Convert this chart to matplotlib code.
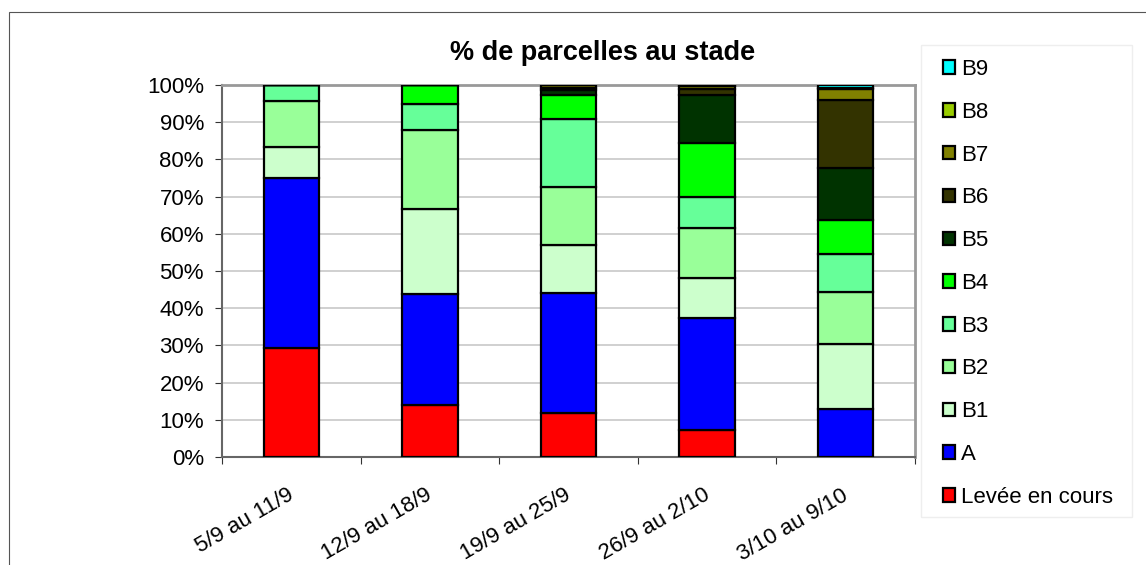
import matplotlib.pyplot as plt
import matplotlib.transforms as mtransforms
import numpy as np
from matplotlib.patches import Rectangle

plt.rcParams['font.family'] = ['Liberation Sans', 'DejaVu Sans']

# weeks
periods = ["5/9 au 11/9", "12/9 au 18/9", "19/9 au 25/9", "26/9 au 2/10", "3/10 au 9/10"]

# % of plots per stage (bottom to top)
stages = ["Levée en cours", "A", "B1", "B2", "B3", "B4", "B5", "B6", "B7", "B8", "B9"]
levee = [29.2, 14.0, 11.7, 7.3, 0.0]
stade_a = [45.8, 29.8, 32.4, 30.0, 13.0]
b1 = [8.3, 23.0, 13.0, 10.8, 17.4]
b2 = [12.5, 21.1, 15.5, 13.5, 13.9]
b3 = [4.2, 7.0, 18.3, 8.3, 10.3]
b4 = [0.0, 5.1, 6.4, 14.6, 9.0]
b5 = [0.0, 0.0, 1.3, 12.8, 14.2]
b6 = [0.0, 0.0, 0.7, 1.6, 18.2]
b7 = [0.0, 0.0, 0.7, 0.8, 2.9]
b8 = [0.0, 0.0, 0.0, 0.3, 0.2]
b9 = [0.0, 0.0, 0.0, 0.0, 0.9]

colors = ["#ff0000", "#0000ff", "#ccffcc", "#99ff99", "#66ff99", "#00ff00",
          "#003300", "#333300", "#808000", "#99cc00", "#00ffff"]

series = [levee, stade_a, b1, b2, b3, b4, b5, b6, b7, b8, b9]

W, H = 1146, 565
fig = plt.figure(figsize=(W / 100, H / 100), dpi=100)
ax = fig.add_axes([222 / W, 1 - 457 / H, 693 / W, 372 / H])

# outer chart border
fig.patches.append(Rectangle((9 / W, -0.1), 1.2, 0.1 + 1 - 12 / H,
                             transform=fig.transFigure, fill=False,
                             edgecolor="#555555", linewidth=0.8))
# legend frame
fig.patches.append(Rectangle((921 / W, 1 - 517 / H), 211 / W, 472 / H,
                             transform=fig.transFigure, fill=False,
                             edgecolor="#eeeeee", linewidth=1))

x = np.arange(len(periods))
bottom = np.zeros(len(periods))
handles = []
for name, vals, col in zip(stages, series, colors):
    vals = np.array(vals)
    h = ax.bar(x, vals, width=0.4, bottom=bottom, color=col,
               edgecolor="black", linewidth=1.6, label=name, zorder=3)
    handles.append(h)
    bottom += vals

ax.set_xlim(-0.5, 4.5)
ax.set_ylim(0, 100)
ax.set_yticks(np.arange(0, 101, 10))
ax.set_yticklabels([f"{v}%" for v in range(0, 101, 10)], fontsize=16)
ax.yaxis.grid(True, color="#c8c8c8", linewidth=1.2, zorder=0)

ax.set_xticks(np.arange(-0.5, 5, 1))
ax.set_xticklabels([])
ax.set_xticks(x, minor=True)
ax.set_xticklabels(periods, minor=True, rotation=30, ha="right", fontsize=16)
ax.tick_params(axis="x", which="minor", length=0, pad=20)
ax.tick_params(axis="x", which="major", length=5, color="#333333")
ax.tick_params(axis="y", length=5, color="#333333", pad=8)

# shift category labels a bit to the right
shift = mtransforms.ScaledTranslation(6 / 100, 0, fig.dpi_scale_trans)
for lab in ax.get_xticklabels(minor=True):
    lab.set_transform(lab.get_transform() + shift)

for s in ["top", "right"]:
    ax.spines[s].set_color("#999999")
    ax.spines[s].set_linewidth(2)
for s in ["left", "bottom"]:
    ax.spines[s].set_color("#666666")
    ax.spines[s].set_linewidth(1.5)

fig.text(603 / W, 1 - 53 / H, "% de parcelles au stade", ha="center", va="center",
         fontsize=19.5, fontweight="bold")

leg = fig.legend(handles[::-1], stages[::-1], loc="upper left",
                 bbox_to_anchor=(943 / W, 1 - 59 / H), fontsize=16,
                 frameon=False, labelspacing=0.98, handlelength=0.55,
                 handleheight=0.55, handletextpad=0.25, borderpad=0,
                 borderaxespad=0)

fig.savefig("out.png", dpi=100)
